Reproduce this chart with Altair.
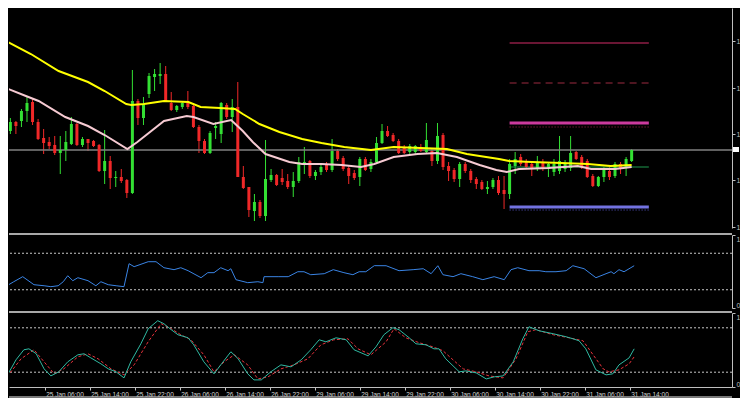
import altair as alt
import pandas as pd

# ---------------- data (hourly bars, bar 0 = 24 Jan 23:00) ----------------
opens = [1.2363, 1.2372, 1.2373, 1.2383, 1.2392, 1.2372, 1.2356, 1.2352, 1.2349, 1.2341,
         1.2344, 1.2350, 1.2370, 1.2349, 1.2355, 1.2353, 1.2349, 1.2323, 1.2333, 1.2316,
         1.2317, 1.2314, 1.2301, 1.2393, 1.2376, 1.2400, 1.2417, 1.2418, 1.2420, 1.2391,
         1.2384, 1.2387, 1.2391, 1.2388, 1.2367, 1.2353, 1.2341, 1.2366, 1.2360, 1.2389,
         1.2377, 1.2387, 1.2317, 1.2307, 1.2283, 1.2292, 1.2278, 1.2314, 1.2319, 1.2316,
         1.2313, 1.2307, 1.2313, 1.2330, 1.2333, 1.2318, 1.2322, 1.2330, 1.2324, 1.2343,
         1.2336, 1.2326, 1.2321, 1.2317, 1.2335, 1.2325, 1.2332, 1.2351, 1.2363, 1.2359,
         1.2353, 1.2347, 1.2342, 1.2342, 1.2347, 1.2342, 1.2343, 1.2333, 1.2359, 1.2328,
         1.2324, 1.2315, 1.2330, 1.2323, 1.2315, 1.2312, 1.2305, 1.2307, 1.2314, 1.2304,
         1.2300, 1.2328, 1.2337, 1.2332, 1.2330, 1.2325, 1.2332, 1.2325, 1.2322, 1.2323,
         1.2325, 1.2326, 1.2342, 1.2337, 1.2333, 1.2318, 1.2308, 1.2317, 1.2323, 1.2318,
         1.2330, 1.2327, 1.2333]
highs = [1.2376, 1.2373, 1.2385, 1.2398, 1.2396, 1.2375, 1.2365, 1.2357, 1.2358, 1.2358,
         1.2363, 1.2377, 1.2371, 1.2357, 1.2355, 1.2354, 1.2350, 1.2364, 1.2338, 1.2323,
         1.2325, 1.2315, 1.2424, 1.2395, 1.2397, 1.2421, 1.2425, 1.2431, 1.2428, 1.2402,
         1.2389, 1.2393, 1.2403, 1.2390, 1.2369, 1.2355, 1.2363, 1.2372, 1.2392, 1.2391,
         1.2395, 1.2412, 1.2328, 1.2307, 1.2300, 1.2294, 1.2354, 1.2325, 1.2320, 1.2325,
         1.2320, 1.2322, 1.2337, 1.2347, 1.2334, 1.2324, 1.2330, 1.2332, 1.2355, 1.2345,
         1.2338, 1.2328, 1.2324, 1.2337, 1.2337, 1.2335, 1.2357, 1.2370, 1.2368, 1.2361,
         1.2355, 1.2349, 1.2350, 1.2349, 1.2350, 1.2371, 1.2345, 1.2371, 1.2361, 1.2332,
         1.2326, 1.2332, 1.2332, 1.2325, 1.2317, 1.2314, 1.2313, 1.2316, 1.2318, 1.2318,
         1.2335, 1.2342, 1.2340, 1.2335, 1.2332, 1.2338, 1.2335, 1.2332, 1.2335, 1.2358,
         1.2334, 1.2358, 1.2343, 1.2339, 1.2335, 1.2320, 1.2318, 1.2327, 1.2327, 1.2332,
         1.2332, 1.2337, 1.2345]
lows = [1.2360, 1.2360, 1.2367, 1.2372, 1.2369, 1.2354, 1.2340, 1.2345, 1.2339, 1.2320,
        1.2333, 1.2349, 1.2348, 1.2347, 1.2343, 1.2347, 1.2322, 1.2310, 1.2305, 1.2307,
        1.2311, 1.2296, 1.2300, 1.2369, 1.2369, 1.2396, 1.2403, 1.2410, 1.2392, 1.2383,
        1.2382, 1.2385, 1.2385, 1.2366, 1.2341, 1.2340, 1.2340, 1.2355, 1.2351, 1.2375,
        1.2362, 1.2317, 1.2305, 1.2277, 1.2273, 1.2276, 1.2273, 1.2312, 1.2308, 1.2309,
        1.2305, 1.2297, 1.2311, 1.2320, 1.2316, 1.2314, 1.2319, 1.2322, 1.2322, 1.2333,
        1.2323, 1.2310, 1.2314, 1.2308, 1.2323, 1.2322, 1.2330, 1.2350, 1.2357, 1.2352,
        1.2340, 1.2340, 1.2340, 1.2340, 1.2342, 1.2341, 1.2328, 1.2330, 1.2324, 1.2313,
        1.2312, 1.2307, 1.2321, 1.2311, 1.2305, 1.2304, 1.2300, 1.2305, 1.2299, 1.2285,
        1.2295, 1.2320, 1.2328, 1.2325, 1.2318, 1.2323, 1.2323, 1.2317, 1.2318, 1.2320,
        1.2322, 1.2323, 1.2334, 1.2325, 1.2316, 1.2307, 1.2307, 1.2312, 1.2314, 1.2316,
        1.2320, 1.2318, 1.2332]
closes = [1.2372, 1.2368, 1.2383, 1.2391, 1.2372, 1.2355, 1.2351, 1.2348, 1.2341, 1.2344,
          1.2352, 1.2370, 1.2349, 1.2355, 1.2351, 1.2348, 1.2323, 1.2333, 1.2316, 1.2317,
          1.2313, 1.2301, 1.2393, 1.2376, 1.2389, 1.2418, 1.2420, 1.2420, 1.2393, 1.2384,
          1.2388, 1.2391, 1.2387, 1.2367, 1.2353, 1.2341, 1.2361, 1.2368, 1.2391, 1.2377,
          1.2387, 1.2317, 1.2306, 1.2284, 1.2292, 1.2278, 1.2315, 1.2319, 1.2309, 1.2312,
          1.2307, 1.2313, 1.2332, 1.2332, 1.2318, 1.2322, 1.2327, 1.2324, 1.2343, 1.2335,
          1.2325, 1.2318, 1.2316, 1.2335, 1.2324, 1.2332, 1.2351, 1.2363, 1.2358, 1.2353,
          1.2341, 1.2341, 1.2348, 1.2348, 1.2343, 1.2354, 1.2333, 1.2358, 1.2327, 1.2323,
          1.2315, 1.2330, 1.2323, 1.2314, 1.2310, 1.2305, 1.2307, 1.2314, 1.2301, 1.2300,
          1.2330, 1.2335, 1.2330, 1.2327, 1.2325, 1.2332, 1.2325, 1.2330, 1.2330, 1.2333,
          1.2330, 1.2341, 1.2335, 1.2327, 1.2317, 1.2308, 1.2317, 1.2325, 1.2317, 1.2330,
          1.2325, 1.2335, 1.2344]

# moving averages (bar position, price)
ma_slow_idx = [-0.8, 3.7, 8.7, 14.0, 17.0, 20.9, 21.8, 24.1, 27.7, 32.1, 34.3, 37.8, 40.5,
               41.9, 43.7, 44.9, 48.5, 52.6, 56.1, 60.2, 65.0, 69.1, 73.9, 78.7, 82.3, 84.6,
               88.1, 89.9, 94.0, 99.3, 104.1, 108.2, 112.0]
ma_slow_val = [1.2453, 1.2440, 1.2423, 1.2412, 1.2403, 1.2390, 1.2389, 1.2390, 1.2393, 1.2392,
               1.2387, 1.2386, 1.2385, 1.2380, 1.2374, 1.2370, 1.2362, 1.2355, 1.2351, 1.2347,
               1.2344, 1.2347, 1.2346, 1.2345, 1.2340, 1.2338, 1.2335, 1.2333, 1.2332, 1.2331,
               1.2330, 1.2328, 1.2329]
ma_fast_idx = [-0.8, 2.8, 5.1, 9.9, 14.0, 17.0, 21.1, 22.9, 27.7, 31.8, 33.0, 36.6, 39.8, 41.9,
               43.7, 46.0, 50.3, 52.6, 56.1, 59.7, 63.2, 65.6, 69.1, 73.4, 76.9, 80.5, 84.6,
               87.6, 89.5, 91.7, 97.0, 102.3, 104.7, 109.0, 112.0]
ma_fast_val = [1.2406, 1.2398, 1.2393, 1.2377, 1.2368, 1.2359, 1.2345, 1.2352, 1.2373, 1.2378,
               1.2377, 1.2370, 1.2374, 1.2363, 1.2352, 1.2340, 1.2332, 1.2330, 1.2330, 1.2329,
               1.2327, 1.2330, 1.2337, 1.2340, 1.2341, 1.2337, 1.2329, 1.2324, 1.2322, 1.2325,
               1.2326, 1.2328, 1.2325, 1.2325, 1.2327]

# RSI
rsi_idx = [-0.8, 0.4, 1.5, 3.1, 5.1, 6.9, 8.1, 9.4, 10.3, 11.1, 12.0, 12.9, 14.7, 16.1, 17.0,
           18.3, 19.7, 21.1, 22.0, 22.9, 25.4, 26.8, 28.2, 30.0, 31.2, 32.5, 34.8, 36.0, 37.1,
           38.3, 39.6, 40.1, 41.0, 43.1, 44.9, 45.8, 46.0, 48.5, 50.3, 52.0, 53.1, 54.3, 56.7,
           58.3, 60.2, 61.8, 62.9, 64.1, 65.6, 67.7, 70.0, 72.5, 74.3, 75.7, 76.9, 77.8, 79.6,
           81.0, 83.1, 84.9, 86.9, 88.7, 89.9, 91.1, 93.1, 94.9, 96.1, 97.9, 99.7, 100.9, 102.9,
           105.0, 106.8, 107.7, 108.2, 109.1, 110.0, 111.8]
rsi_val = [27.4, 31.0, 36.0, 42.9, 31.9, 30.5, 29.2, 30.5, 36.0, 44.2, 37.4, 41.5, 37.4, 30.5,
           36.0, 31.9, 30.5, 29.2, 60.7, 56.6, 63.4, 63.4, 55.2, 52.5, 55.2, 51.1, 41.5, 48.4,
           48.4, 55.2, 51.1, 53.8, 38.8, 34.7, 36.0, 34.7, 42.9, 42.9, 42.9, 49.7, 49.7, 45.6,
           47.0, 52.5, 48.4, 45.6, 49.7, 49.7, 58.0, 57.9, 51.1, 52.5, 53.8, 47.0, 57.9, 45.6,
           42.9, 47.0, 42.9, 38.8, 42.9, 38.8, 52.5, 55.2, 51.1, 51.1, 49.7, 49.7, 51.1, 57.9,
           53.8, 41.5, 47.0, 49.7, 47.0, 52.5, 49.7, 57.9]
rsi_levels = [25, 75]

# Stochastic
st_idx = [-0.8, 0.5, 1.9, 3.3, 4.2, 5.5, 6.9, 8.1, 9.5, 11.1, 12.9, 14.0, 15.2, 17.0, 18.3,
          19.7, 21.1, 22.3, 24.1, 25.4, 27.1, 28.2, 29.5, 30.7, 32.5, 33.5, 35.3, 37.1, 38.3,
          40.1, 41.4, 43.1, 44.2, 45.5, 47.2, 49.0, 50.8, 52.6, 54.3, 55.8, 57.0, 58.8, 60.6,
          62.0, 64.5, 65.9, 67.3, 68.9, 70.0, 71.8, 73.0, 74.8, 76.2, 77.1, 78.3, 80.7, 81.9,
          83.7, 85.5, 86.9, 88.5, 90.3, 92.0, 93.1, 94.9, 97.4, 99.7, 100.9, 102.0, 103.2,
          105.0, 106.8, 108.0, 109.1, 110.9, 111.8]
st_val = [15.0, 17.8, 36.7, 50.3, 51.6, 44.9, 24.5, 15.0, 20.5, 34.0, 43.5, 44.9, 39.4, 31.3,
          24.5, 20.5, 12.3, 34.0, 58.4, 78.7, 89.6, 85.5, 77.4, 70.6, 66.5, 57.0, 34.0, 17.8,
          29.9, 47.6, 38.1, 17.8, 9.6, 9.6, 20.5, 29.9, 27.2, 36.7, 50.3, 63.8, 61.1, 66.5,
          63.8, 50.3, 42.1, 54.3, 70.6, 80.1, 77.4, 66.5, 58.4, 57.0, 51.6, 51.6, 38.1, 20.5,
          21.8, 19.1, 10.9, 13.7, 15.0, 34.0, 65.2, 81.4, 76.0, 72.0, 67.9, 65.2, 62.5, 51.6,
          23.2, 16.4, 17.8, 29.9, 39.4, 51.6]
sg_idx = [-0.8, 1.0, 2.8, 5.1, 6.9, 8.7, 10.4, 12.9, 14.7, 16.5, 18.8, 21.1, 22.9, 25.4, 27.7,
          29.5, 31.2, 33.0, 35.3, 37.1, 38.9, 40.7, 43.1, 44.9, 46.7, 49.0, 51.3, 53.8, 56.1,
          58.4, 60.9, 62.7, 65.0, 67.7, 69.1, 71.2, 73.6, 76.0, 77.8, 79.6, 81.4, 83.7, 86.0,
          88.5, 90.8, 92.9, 94.3, 97.4, 100.2, 102.7, 104.5, 106.3, 107.3, 109.1, 110.9, 111.8]
sg_val = [13.7, 20.5, 38.1, 50.3, 34.0, 17.8, 24.5, 40.8, 44.9, 38.1, 24.5, 16.4, 29.9, 61.1,
          85.5, 78.7, 70.6, 63.8, 43.5, 20.5, 34.0, 43.5, 29.9, 10.9, 13.7, 24.5, 29.9, 38.1,
          57.0, 63.8, 65.2, 51.6, 43.5, 61.1, 78.7, 66.5, 59.8, 54.3, 49.0, 36.7, 24.5, 20.5,
          15.0, 12.3, 38.1, 74.7, 77.4, 70.6, 66.5, 62.5, 43.5, 24.5, 20.5, 23.2, 31.3, 40.8]
st_levels = [20, 80]

# horizontal objects on the price chart
bid_price = 1.2344
level_start, level_end = 90.0, 115.1
level_names = ["top", "dash", "mag", "mag_dot", "blue", "blue_dot", "green"]
level_prices = [1.2451, 1.2411, 1.2371, 1.2367, 1.2287, 1.2284, 1.2327]

# time axis
tick_idx = [7, 15, 23, 31, 39, 47, 55, 63, 71, 79, 87, 95, 103, 111]
tick_labels = ["25 Jan 06:00", "25 Jan 14:00", "25 Jan 22:00", "26 Jan 06:00",
               "26 Jan 14:00", "26 Jan 22:00", "29 Jan 06:00", "29 Jan 14:00",
               "29 Jan 22:00", "30 Jan 06:00", "30 Jan 14:00", "30 Jan 22:00",
               "31 Jan 06:00", "31 Jan 14:00"]
price_ticks = [1.2267, 1.2290, 1.2314, 1.2337, 1.2360, 1.2383, 1.2406, 1.2430, 1.2453, 1.2476]

# ---------------- layout / style ----------------
W = 723
H_MAIN, H_RSI, H_STO = 220, 73, 74
X_DOMAIN = [0.658, 129.19]
AX = "#BFBFBF"
FONT = "Liberation Sans"
UP, DOWN = "#33E033", "#F02828"

xs = alt.Scale(domain=X_DOMAIN, nice=False, zero=False)
ys_main = alt.Scale(domain=[1.2266, 1.2486], nice=False, zero=False)
ys_ind = alt.Scale(domain=[0, 100], nice=False, zero=False)


def right_axis(values, expr, flush):
    return alt.Axis(orient="right", values=values, labelExpr=expr, tickSize=3,
                    labelPadding=1, domainColor=AX, tickColor=AX, labelColor=AX,
                    labelFontSize=7, labelFont=FONT, grid=False, title=None,
                    labelFlush=flush, labelOverlap=False)


candles = pd.DataFrame({"i": list(range(len(opens))), "open": opens, "high": highs,
                        "low": lows, "close": closes})
candles["dir"] = ["up" if c >= o else "down" for o, c in zip(opens, closes)]
color = alt.Color("dir:N", scale=alt.Scale(domain=["up", "down"], range=[UP, DOWN]), legend=None)

base = alt.Chart(candles)
wicks = base.mark_rule(strokeWidth=1, clip=True).encode(
    x=alt.X("i:Q", scale=xs, axis=None),
    y=alt.Y("low:Q", scale=ys_main,
            axis=right_axis(price_ticks, "substring(format(datum.value, '.4f'), 0, 1)", False)),
    y2="high:Q", color=color)
bodies = base.mark_bar(size=3, clip=True).encode(
    x=alt.X("i:Q", scale=xs, axis=None), y=alt.Y("open:Q", scale=ys_main), y2="close:Q",
    color=color)

lv = pd.DataFrame({"name": level_names, "price": level_prices,
                   "x0": [level_start] * len(level_names), "x1": [level_end] * len(level_names)})
level_style = {
    "top": dict(color="#8E1E46", strokeWidth=1.5),
    "dash": dict(color="#9C2A40", strokeWidth=1, strokeDash=[7, 5]),
    "mag": dict(color="#CC3A9E", strokeWidth=3),
    "mag_dot": dict(color="#A02A4A", strokeWidth=1, strokeDash=[1, 2]),
    "blue": dict(color="#7272E0", strokeWidth=3),
    "blue_dot": dict(color="#5A5AD0", strokeWidth=1, strokeDash=[1, 2]),
    "green": dict(color="#1E9A4E", strokeWidth=1),
}
level_layers = []
for name in level_names:
    level_layers.append(
        alt.Chart(lv).transform_filter(alt.datum.name == name)
        .mark_rule(clip=True, **level_style[name])
        .encode(x=alt.X("x0:Q", scale=xs, axis=None), x2="x1:Q",
                y=alt.Y("price:Q", scale=ys_main)))

bid_df = pd.DataFrame({"price": [bid_price], "hi": [bid_price + 0.0003], "lo": [bid_price - 0.0002]})
bid_line = alt.Chart(bid_df).mark_rule(color="#808080", strokeWidth=1.5).encode(
    y=alt.Y("price:Q", scale=ys_main))
bid_box = alt.Chart(bid_df).mark_rect(color="white").encode(
    x=alt.value(W + 1), x2=alt.value(W + 7),
    y=alt.Y("hi:Q", scale=ys_main), y2="lo:Q")

slow = pd.DataFrame({"i": ma_slow_idx, "v": ma_slow_val})
fast = pd.DataFrame({"i": ma_fast_idx, "v": ma_fast_val})
ma_slow = alt.Chart(slow).mark_line(color="#FFFF00", strokeWidth=2, clip=True).encode(
    x=alt.X("i:Q", scale=xs, axis=None), y=alt.Y("v:Q", scale=ys_main))
ma_fast = alt.Chart(fast).mark_line(color="#F6CAD2", strokeWidth=2, clip=True).encode(
    x=alt.X("i:Q", scale=xs, axis=None), y=alt.Y("v:Q", scale=ys_main))

main = alt.layer(wicks, *level_layers, bid_line, bodies, ma_slow, ma_fast, bid_box).properties(
    width=W, height=H_MAIN)

# separators between panels
sep_df = pd.DataFrame({"a": [0]})


def separator():
    return alt.Chart(sep_df).mark_rule(color="#A8A8A8", strokeWidth=2).encode(
        x=alt.value(0), x2=alt.value(W), y=alt.value(-1))


# RSI panel
rsi_df = pd.DataFrame({"i": rsi_idx, "v": rsi_val})
rsi_lv = pd.DataFrame({"v": rsi_levels})
rsi_line = alt.Chart(rsi_df).mark_line(color="#3A84E4", strokeWidth=1, clip=True).encode(
    x=alt.X("i:Q", scale=xs, axis=None),
    y=alt.Y("v:Q", scale=ys_ind,
            axis=right_axis([0, 25, 75, 100], "substring(format(datum.value, 'd'), 0, 1)", True)))
rsi_levels_m = alt.Chart(rsi_lv).mark_rule(color="#C8C8C8", strokeWidth=1, strokeDash=[2, 2]).encode(
    y=alt.Y("v:Q", scale=ys_ind))
rsi = alt.layer(rsi_levels_m, rsi_line, separator()).properties(width=W, height=H_RSI)

# Stochastic panel
st_df = pd.DataFrame({"i": st_idx, "v": st_val})
sg_df = pd.DataFrame({"i": sg_idx, "v": sg_val})
st_lv = pd.DataFrame({"v": st_levels})
label_expr = "[" + ",".join("'%s'" % t for t in tick_labels) + "][(datum.value - %d) / 8]" % tick_idx[0]
x_axis = alt.Axis(values=tick_idx, labelExpr=label_expr, labelAlign="left", labelAngle=0,
                  labelBaseline="top", tickSize=3, labelPadding=1, domainColor=AX, tickColor=AX,
                  labelColor="#D6D6D6", labelFontSize=6.5, labelFont=FONT, grid=False,
                  title=None, labelOverlap=False, labelFlush=False, labelBound=False, labelOffset=1)
st_levels_m = alt.Chart(st_lv).mark_rule(color="#C8C8C8", strokeWidth=1, strokeDash=[2, 2]).encode(
    y=alt.Y("v:Q", scale=ys_ind))
sg_line = alt.Chart(sg_df).mark_line(color="#E8323C", strokeWidth=1, strokeDash=[3, 2], clip=True).encode(
    x=alt.X("i:Q", scale=xs, axis=x_axis), y=alt.Y("v:Q", scale=ys_ind))
st_line = alt.Chart(st_df).mark_line(color="#2FB9A2", strokeWidth=1, clip=True).encode(
    x=alt.X("i:Q", scale=xs, axis=x_axis),
    y=alt.Y("v:Q", scale=ys_ind,
            axis=right_axis([0, 20, 80, 100], "substring(format(datum.value, 'd'), 0, 1)", True)))
bottom_line = alt.Chart(sep_df).mark_rule(color="#A0A0A0", strokeWidth=1.5).encode(
    x=alt.value(0), x2=alt.value(W), y=alt.value(H_STO + 10))
stoch = alt.layer(st_levels_m, sg_line, st_line, separator(), bottom_line).properties(
    width=W, height=H_STO)

chart = (
    alt.vconcat(main, rsi, stoch, spacing=2)
    .properties(padding=0)
    .configure(background="black")
    .configure_view(strokeWidth=0)
)

chart.save("out.html", embed_options={"renderer": "svg", "actions": False})
